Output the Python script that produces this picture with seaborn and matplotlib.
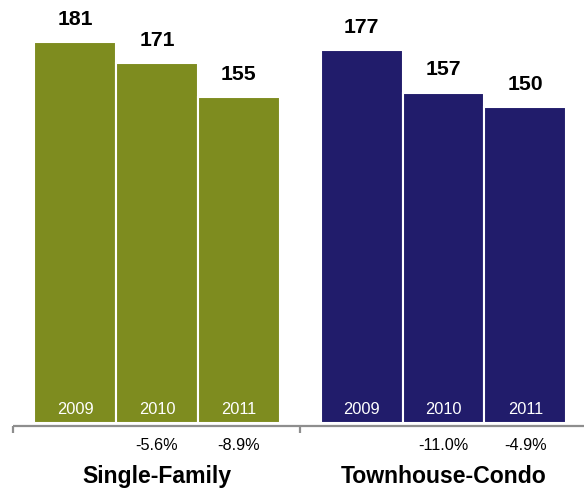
import matplotlib
matplotlib.use("Agg")
import matplotlib.pyplot as plt
import seaborn as sns
import pandas as pd

# Values by property type and year
categories = ["Single-Family", "Townhouse-Condo"]
years = ["2009", "2010", "2011"]
single_family = [181, 171, 155]
townhouse_condo = [177, 157, 150]
single_family_change = ["", "-5.6%", "-8.9%"]
townhouse_condo_change = ["", "-11.0%", "-4.9%"]

colors = {"Single-Family": "#7E8C1F", "Townhouse-Condo": "#211C6B"}

sns.set_theme(style="white")
plt.rcParams["font.family"] = ["Liberation Sans", "DejaVu Sans"]

# Build a long table: each group of three bars sits 3.5 bar widths apart
rows = []
for g, (cat, vals, chg) in enumerate(zip(categories,
                                         [single_family, townhouse_condo],
                                         [single_family_change, townhouse_condo_change])):
    for i, (yr, v, c) in enumerate(zip(years, vals, chg)):
        rows.append({"pos": g * 3.5 + i, "value": v, "category": cat,
                     "year": yr, "change": c})
df = pd.DataFrame(rows)

fig = plt.figure(figsize=(5.84, 4.88), dpi=100)
ax = fig.add_axes([0, 0, 1, 1])

sns.barplot(data=df, x="pos", y="value", hue="category", palette=colors,
            native_scale=True, width=1.0, dodge=False, legend=False,
            edgecolor="white", linewidth=1.5, saturation=1, ax=ax)

ax.set_xlim(-0.916, 6.215)
ax.set_ylim(-30.6, 200.9)
ax.axis("off")

# Baseline axis with group separators
axis_y = -1.2
ax.plot([-0.757, 6.4], [axis_y, axis_y], color="#8E8E8E", lw=1.6,
        solid_capstyle="butt", clip_on=False)
for xb in [-0.757, 2.75, 6.25]:
    ax.plot([xb, xb], [axis_y, -4.4], color="#8E8E8E", lw=1.6,
            solid_capstyle="butt")

for _, r in df.iterrows():
    # value above the bar
    ax.annotate(f"{r['value']}", (r["pos"], r["value"]), xytext=(0, 12.3),
                textcoords="offset points", ha="center", va="baseline",
                fontsize=15.3, fontweight="bold", color="black")
    # year inside the bar
    ax.annotate(r["year"], (r["pos"], 0), xytext=(0, 6.6),
                textcoords="offset points", ha="center", va="baseline",
                fontsize=11.8, color="white")
    # percent change below the axis
    if r["change"]:
        ax.annotate(r["change"], (r["pos"], 0), xytext=(0, -19),
                    textcoords="offset points", ha="center", va="baseline",
                    fontsize=11.7, color="black")

for g, cat in enumerate(categories):
    ax.annotate(cat, (g * 3.5 + 1, 0), xytext=(0, -42.5),
                textcoords="offset points", ha="center", va="baseline",
                fontsize=16.6, fontweight="bold", color="black")

fig.savefig("out.png", dpi=100)
